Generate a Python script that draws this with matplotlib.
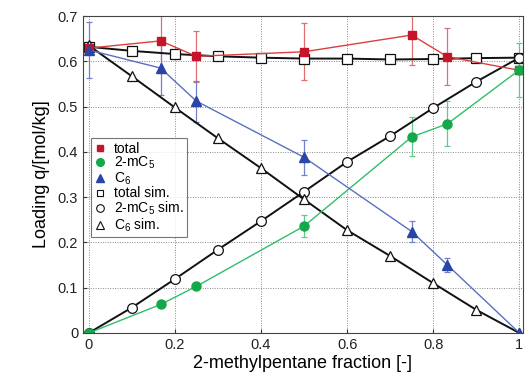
import matplotlib
matplotlib.use("Agg")
import matplotlib.pyplot as plt
from matplotlib.lines import Line2D

plt.rcParams["font.family"] = ["Liberation Sans", "DejaVu Sans"]
plt.rcParams["mathtext.default"] = "regular"

# experimental data
x_exp = [0.0, 0.167, 0.25, 0.5, 0.75, 0.833, 1.0]
total_exp = [0.629, 0.645, 0.611, 0.621, 0.658, 0.610, 0.580]
total_err = [0.0, 0.07, 0.056, 0.063, 0.066, 0.063, 0.0]
mc5_exp = [0.0, 0.063, 0.103, 0.236, 0.433, 0.462, 0.581]
mc5_err = [0.0, 0.0, 0.0, 0.024, 0.043, 0.05, 0.06]
c6_exp = [0.625, 0.585, 0.512, 0.388, 0.224, 0.150, 0.0]
c6_err = [0.062, 0.059, 0.045, 0.039, 0.023, 0.016, 0.0]

# simulation data
x_sim = [0.0, 0.1, 0.2, 0.3, 0.4, 0.5, 0.6, 0.7, 0.8, 0.9, 1.0]
total_sim = [0.632, 0.623, 0.616, 0.611, 0.608, 0.606, 0.606, 0.604, 0.605, 0.607, 0.608]
mc5_sim = [0.0, 0.056, 0.119, 0.184, 0.247, 0.312, 0.378, 0.435, 0.497, 0.555, 0.608]
c6_sim = [0.635, 0.567, 0.498, 0.43, 0.364, 0.295, 0.227, 0.17, 0.11, 0.051, 0.0]

labels = ["total", "2-mC$_5$", "C$_6$", "total sim.", "2-mC$_5$ sim.", "C$_6$ sim."]

fig = plt.figure(figsize=(5.26, 3.81), dpi=100)
ax = fig.add_axes([0.158, 0.126, 0.836, 0.832])

err_kw = dict(elinewidth=0.9, capsize=2.5, capthick=0.9)
ax.errorbar(x_exp, total_exp, yerr=total_err, color="#d9403f", ecolor="#e07070",
            marker="s", mfc="#c4152a", mec="#c4152a", ms=6, lw=1.0, **err_kw)
ax.errorbar(x_exp, mc5_exp, yerr=mc5_err, color="#2fbf6a", ecolor="#60cc88",
            marker="o", mfc="#13a84a", mec="#13a84a", ms=6.5, lw=1.0, **err_kw)
ax.errorbar(x_exp, c6_exp, yerr=c6_err, color="#5a6fc0", ecolor="#7080cc",
            marker="^", mfc="#2a45a8", mec="#2a45a8", ms=7, lw=1.0, **err_kw)

ax.plot(x_sim, total_sim, color="#111111", lw=1.4, marker="s", mfc="white", mec="#111111",
        ms=6.5, mew=0.9)
ax.plot(x_sim, mc5_sim, color="#111111", lw=1.4, marker="o", mfc="white", mec="#111111",
        ms=7, mew=0.9)
ax.plot(x_sim, c6_sim, color="#111111", lw=1.4, marker="^", mfc="white", mec="#111111",
        ms=7.5, mew=0.9)

ax.set_xlim(-0.013, 1.008)
ax.set_ylim(0, 0.7)
ax.set_xticks([0, 0.2, 0.4, 0.6, 0.8, 1])
ax.set_xticklabels(["0", "0.2", "0.4", "0.6", "0.8", "1"])
ax.set_yticks([0, 0.1, 0.2, 0.3, 0.4, 0.5, 0.6, 0.7])
ax.set_yticklabels(["0", "0.1", "0.2", "0.3", "0.4", "0.5", "0.6", "0.7"])
ax.tick_params(direction="in", length=3, labelsize=10.5, colors="#333333", labelcolor="#222222")
ax.grid(True, color="#888888", ls=(0, (1, 1.5)), lw=0.7)
ax.set_axisbelow(True)
for s in ax.spines.values():
    s.set_color("#444444")
    s.set_linewidth(0.8)

ax.set_xlabel("2-methylpentane fraction [-]", fontsize=13, labelpad=2)
ax.set_ylabel("Loading q/[mol/kg]", fontsize=13, labelpad=6)

# legend shows markers only
proxy = [
    Line2D([], [], ls="none", marker="s", mfc="#c4152a", mec="#c4152a", ms=5),
    Line2D([], [], ls="none", marker="o", mfc="#13a84a", mec="#13a84a", ms=5.5),
    Line2D([], [], ls="none", marker="^", mfc="#2a45a8", mec="#2a45a8", ms=6),
    Line2D([], [], ls="none", marker="s", mfc="white", mec="#111111", ms=5, mew=0.8),
    Line2D([], [], ls="none", marker="o", mfc="white", mec="#111111", ms=5.5, mew=0.8),
    Line2D([], [], ls="none", marker="^", mfc="white", mec="#111111", ms=6, mew=0.8),
]
leg = ax.legend(proxy, labels, loc="lower left", bbox_to_anchor=(0.018, 0.302),
                fontsize=10, frameon=True, fancybox=False, handlelength=0.8,
                handletextpad=0.6, labelspacing=-0.05, borderpad=0.25, borderaxespad=0)
leg.get_frame().set_edgecolor("#555555")
leg.get_frame().set_linewidth(0.8)

fig.savefig("out.png", dpi=100)
